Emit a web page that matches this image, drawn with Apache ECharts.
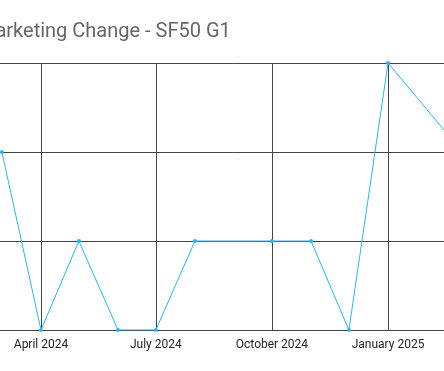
<!DOCTYPE html>
<html>
<head>
<meta charset="utf-8">
<script src="https://cdn.jsdelivr.net/npm/echarts@6/dist/echarts.min.js"></script>
<style>
html,body{margin:0;padding:0;background:#fff;overflow:hidden;width:444px;height:371px;position:relative;}
#chart{position:absolute;left:-150px;top:0;width:744px;height:371px;}
</style>
</head>
<body>
<div id="chart"></div>
<script>
const titleText = 'Marketing Change - SF50 G1';
const dates = ['2024-03-01','2024-04-01','2024-05-01','2024-06-01','2024-07-01','2024-08-01','2024-10-01','2024-11-01','2024-12-01','2025-01-01','2025-03-01'];
const values = [2,0,1,0,0,1,1,1,0,3,2];
const monthNames = ['January','February','March','April','May','June','July','August','September','October','November','December'];
const xMin = '2024-02-01';
const xMax = '2025-04-01';

const chart = echarts.init(document.getElementById('chart'));
chart.setOption({
  animation:false,
  title:{text:titleText,left:123,top:17,textStyle:{fontFamily:'Roboto',fontSize:20,fontWeight:'normal',color:'#666'}},
  grid:{left:115.3,right:92.4,top:63,bottom:41,outerBoundsMode:'none',containLabel:false},
  xAxis:{
    type:'time', min:xMin, max:xMax, splitNumber:4,
    axisLine:{lineStyle:{color:'#444'}},
    axisTick:{show:false},
    splitLine:{show:true,lineStyle:{color:'#444'}},
    axisLabel:{color:'#222',fontFamily:'Roboto',fontSize:12,margin:9,
      formatter:function(v){const d=new Date(v);return monthNames[d.getMonth()]+' '+d.getFullYear();}}
  },
  yAxis:{
    type:'value', min:0, max:3, interval:1,
    axisLine:{show:false},axisTick:{show:false},
    splitLine:{lineStyle:{color:'#444'}},
    axisLabel:{color:'#222'}
  },
  series:[{
    type:'line',
    data:dates.map((d,i)=>[d,values[i]]),
    symbol:'circle',symbolSize:4,
    lineStyle:{color:'#29b6f6',width:1},
    itemStyle:{color:'#29b6f6'}
  }]
});
</script>
</body>
</html>
